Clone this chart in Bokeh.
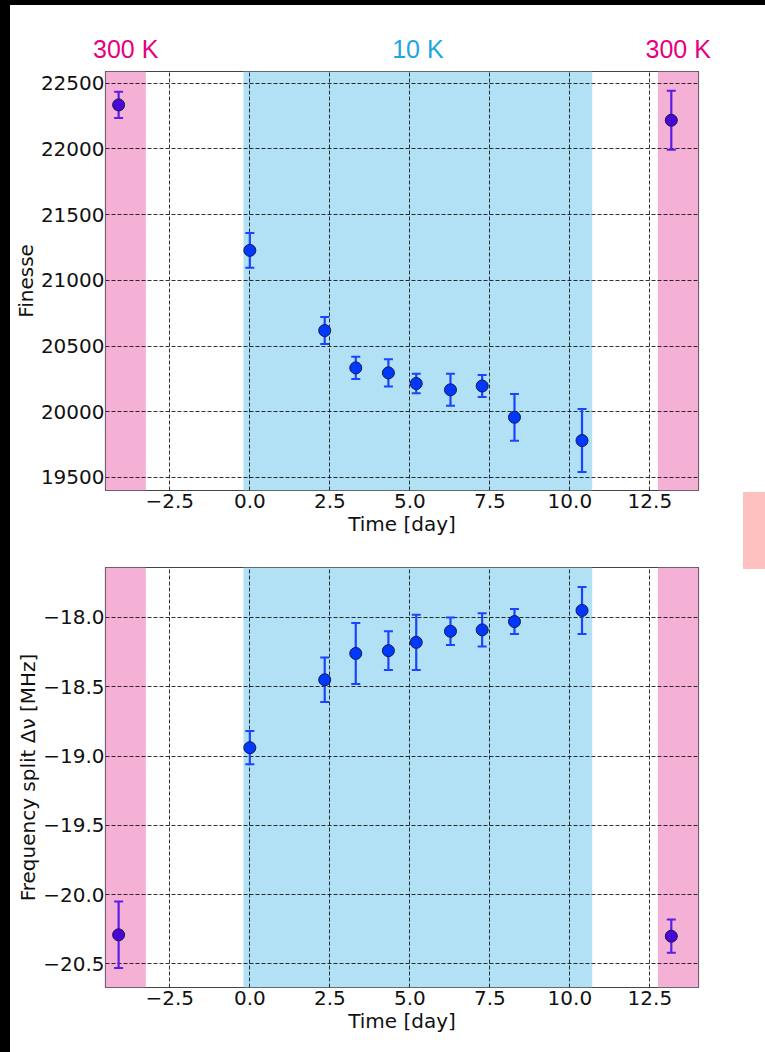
from bokeh.plotting import figure
from bokeh.models import (ColumnDataSource, BoxAnnotation, FixedTicker,
                          CustomJSTickFormatter, Spacer, Range1d)
from bokeh.core.properties import value
from bokeh.layouts import column, row
from bokeh.embed import file_html
from bokeh.resources import INLINE

# ---------------- data ----------------
time_days = [-4.10, 0.00, 2.34, 3.31, 4.33, 5.20, 6.27, 7.26, 8.27, 10.38, 13.17]
phase = ["300 K", "10 K", "10 K", "10 K", "10 K", "10 K", "10 K", "10 K", "10 K", "10 K", "300 K"]
finesse = [22335, 21228, 20618, 20334, 20296, 20215, 20167, 20196, 19958, 19781, 22218]
finesse_err = [100, 133, 103, 85, 103, 75, 122, 84, 178, 240, 224]
dnu = [-20.29, -18.94, -18.45, -18.26, -18.24, -18.18, -18.10, -18.09, -18.03, -17.95, -20.30]
dnu_err = [0.24, 0.12, 0.16, 0.22, 0.14, 0.20, 0.10, 0.12, 0.09, 0.17, 0.12]

period_labels = ["300 K", "10 K", "300 K"]
period_start = [None, -0.2, 12.75]
period_end = [-3.25, 10.7, None]

x_ticks = [-2.5, 0.0, 2.5, 5.0, 7.5, 10.0, 12.5]
finesse_ticks = [19500, 20000, 20500, 21000, 21500, 22000, 22500]
dnu_ticks = [-20.5, -20.0, -19.5, -19.0, -18.5, -18.0]

# ---------------- styles / geometry ----------------
X_RANGE = (-4.51, 14.02)
FRAME_W = 593
BORDER_L = 95
BORDER_R = 45
FONT = "DejaVu Sans"
band_color = {"300 K": "#f5b0d6", "10 K": "#b2e1f5"}
label_color = {"300 K": "#e5007f", "10 K": "#1ea6e1"}
marker_color = {"300 K": "#4a05d6", "10 K": "#0038ff"}
bar_color = {"300 K": "#5a1ee6", "10 K": "#1a44ff"}


def make_fig(y, err, y_range, y_ticks, ylabel, decimals_y, top_border, frame_h, bottom_border):
    p = figure(frame_width=FRAME_W, frame_height=frame_h,
               min_border_left=BORDER_L, min_border_right=BORDER_R,
               min_border_top=top_border, min_border_bottom=bottom_border,
               x_range=Range1d(*X_RANGE), y_range=Range1d(*y_range),
               output_backend="svg", toolbar_location=None,
               background_fill_color="white", border_fill_color="white")
    p.outline_line_color = "#444444"
    p.outline_line_width = 1.2

    for lab, s, e in zip(period_labels, period_start, period_end):
        p.add_layout(BoxAnnotation(left=s, right=e, fill_color=band_color[lab], fill_alpha=1.0,
                                   line_color=None, level="image"))

    src = ColumnDataSource(dict(
        x=time_days, y=y,
        lo=[v - d for v, d in zip(y, err)],
        hi=[v + d for v, d in zip(y, err)],
        mc=[marker_color[ph] for ph in phase],
        bc=[bar_color[ph] for ph in phase],
    ))
    p.segment(x0="x", y0="lo", x1="x", y1="hi", source=src, line_color="bc", line_width=2.2)
    p.scatter(x="x", y="lo", source=src, marker="dash", size=9, line_color="bc", line_width=2)
    p.scatter(x="x", y="hi", source=src, marker="dash", size=9, line_color="bc", line_width=2)
    p.scatter(x="x", y="y", source=src, marker="circle", size=12, fill_color="mc",
              line_color="#14184a", line_width=1)

    for g in (p.xgrid, p.ygrid):
        g.grid_line_color = "black"
        g.grid_line_dash = "4 2"
        g.grid_line_alpha = 0.8
        g.grid_line_width = 1

    p.xaxis.ticker = FixedTicker(ticks=x_ticks)
    p.yaxis.ticker = FixedTicker(ticks=y_ticks)
    p.xaxis.formatter = CustomJSTickFormatter(code="return tick.toFixed(1).replace('-', '\u2212');")
    p.yaxis.formatter = CustomJSTickFormatter(
        code="return tick.toFixed(%d).replace('-', '\u2212');" % decimals_y)
    for ax in (p.xaxis[0], p.yaxis[0]):
        ax.axis_line_color = None
        ax.major_tick_out = 0
        ax.major_tick_in = 0
        ax.minor_tick_out = 0
        ax.minor_tick_in = 0
        ax.major_label_text_font = FONT
        ax.major_label_text_font_size = "20px"
        ax.major_label_text_color = "#111111"
        ax.axis_label_text_font = FONT
        ax.axis_label_text_font_size = "20px"
        ax.axis_label_text_font_style = "normal"
        ax.axis_label_text_color = "#111111"
        ax.major_label_standoff = 1
        ax.axis_label_standoff = 0
    p.xaxis.major_label_standoff = 3
    p.xaxis.axis_label_standoff = 1
    p.xaxis.axis_label = "Time [day]"
    p.yaxis.axis_label = ylabel
    return p


# header with the temperature labels, x-aligned with the panels
HEADER_W = BORDER_L + FRAME_W + BORDER_R + 22
scale = FRAME_W / (X_RANGE[1] - X_RANGE[0])
hx = (X_RANGE[0] - BORDER_L / scale, X_RANGE[0] + (HEADER_W - BORDER_L) / scale)
header = figure(frame_width=HEADER_W, frame_height=66,
                min_border_left=0, min_border_right=0, min_border_top=0, min_border_bottom=0,
                x_range=Range1d(*hx), y_range=Range1d(0, 66),
                output_backend="svg", toolbar_location=None,
                background_fill_color="white", border_fill_color="white")
header.axis.visible = False
header.grid.visible = False
header.outline_line_color = None
lx, lc = [], []
for lab, s, e in zip(period_labels, period_start, period_end):
    lo = X_RANGE[0] if s is None else s
    hi = X_RANGE[1] if e is None else e
    lx.append((lo + hi) / 2)
    lc.append(label_color[lab])
header.text(x=lx, y=[23] * len(lx), text=period_labels, text_color=lc,
            text_align="center", text_baseline="middle",
            text_font=value("Liberation Sans"), text_font_size="25px")

p1 = make_fig(finesse, finesse_err, (19401, 22589), finesse_ticks, "Finesse", 0, 0, 419, 50)
p2 = make_fig(dnu, dnu_err, (-20.67, -17.64), dnu_ticks, "Frequency split \u0394\u03bd [MHz]", 1, 27, 420, 65)

black = {"background-color": "black"}
top_bar = Spacer(width=765, height=5, styles=black)
header_row = row(Spacer(width=10, height=66, styles=black), header, spacing=0)
left_bar = Spacer(width=10, height=981, styles=black)
right_col = column(Spacer(width=22, height=421, styles={"background-color": "white"}),
                   Spacer(width=22, height=77, styles={"background-color": "#ffc0c0"}),
                   Spacer(width=22, height=483, styles={"background-color": "white"}),
                   spacing=0)
main_row = row(left_bar, column(p1, p2, spacing=0), right_col, spacing=0)
layout = column(top_bar, header_row, main_row, spacing=0)

open("out.html", "w").write(file_html(layout, INLINE))
